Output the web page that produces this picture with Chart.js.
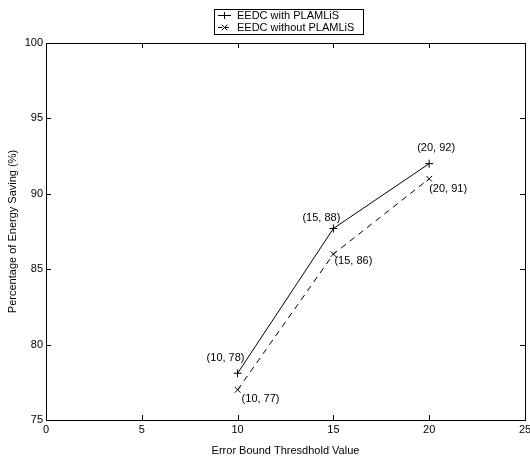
<!DOCTYPE html>
<html>
<head>
<meta charset="utf-8">
<script src="https://cdn.jsdelivr.net/npm/chart.js@4/dist/chart.umd.min.js"></script>
<style>
  html, body { margin: 0; padding: 0; background: #fff; }
  #wrap { width: 530px; height: 464px; }
</style>
</head>
<body>
<div id="wrap"><canvas id="energyChart" width="530" height="464"></canvas></div>
<script>
// data
const thresholds = [10, 15, 20];
const withPlamlis = [78.1, 87.7, 92];
const withoutPlamlis = [77, 86, 91];
const withLabels = ['(10, 78)', '(15, 88)', '(20, 92)'];
const withoutLabels = ['(10, 77)', '(15, 86)', '(20, 91)'];
const xTicks = [0, 5, 10, 15, 20, 25];
const yTicks = [75, 80, 85, 90, 95, 100];

const FONT = 'Liberation Sans, Arial, Helvetica, sans-serif';

const toPoints = (xs, ys) => xs.map((x, i) => ({ x: x, y: ys[i] }));

// offset teks label (px) relatif ke titik
const labelOffsets = [
    [[-31, -15], [-31, -11], [-12, -16]],
    [[4, 9], [1, 7], [0, 10]]
];

// kotak sumbu + tick ke dalam di keempat sisi
const boxPlugin = {
    id: 'boxPlugin',
    afterDraw(chart) {
        const { ctx, chartArea: a, scales } = chart;
        ctx.save();
        ctx.strokeStyle = '#000';
        ctx.lineWidth = 1;
        ctx.strokeRect(Math.round(a.left) + 0.5, Math.round(a.top) + 0.5,
            Math.round(a.right - a.left), Math.round(a.bottom - a.top));
        const tl = 5;
        ctx.beginPath();
        xTicks.forEach(v => {
            const px = Math.round(scales.x.getPixelForValue(v)) + 0.5;
            ctx.moveTo(px, a.bottom); ctx.lineTo(px, a.bottom - tl);
            ctx.moveTo(px, a.top); ctx.lineTo(px, a.top + tl);
        });
        yTicks.forEach(v => {
            const py = Math.round(scales.y.getPixelForValue(v)) + 0.5;
            ctx.moveTo(a.left, py); ctx.lineTo(a.left + tl, py);
            ctx.moveTo(a.right, py); ctx.lineTo(a.right - tl, py);
        });
        ctx.stroke();
        ctx.restore();
    }
};

// label "(x, y)" di samping titik
const pointLabelPlugin = {
    id: 'pointLabelPlugin',
    afterDatasetsDraw(chart) {
        const { ctx } = chart;
        const texts = [withLabels, withoutLabels];
        ctx.save();
        ctx.fillStyle = '#000';
        ctx.font = '11px ' + FONT;
        ctx.textAlign = 'left';
        ctx.textBaseline = 'middle';
        chart.data.datasets.forEach((ds, di) => {
            chart.getDatasetMeta(di).data.forEach((pt, i) => {
                const off = labelOffsets[di][i];
                ctx.fillText(texts[di][i], pt.x + off[0], pt.y + off[1]);
            });
        });
        ctx.restore();
    }
};

// legend bergaya MATLAB dengan kotak
const boxLegendPlugin = {
    id: 'boxLegendPlugin',
    afterDraw(chart) {
        const { ctx } = chart;
        const bx = 214.5, by = 9.5, bw = 149, bh = 25;
        ctx.save();
        ctx.fillStyle = '#fff';
        ctx.fillRect(bx, by, bw, bh);
        ctx.strokeStyle = '#000';
        ctx.lineWidth = 1;
        ctx.strokeRect(bx, by, bw, bh);
        ctx.font = '11px ' + FONT;
        ctx.fillStyle = '#000';
        ctx.textBaseline = 'middle';
        chart.data.datasets.forEach((ds, i) => {
            const y = 15.5 + i * 12;
            const mx = 224.5;
            ctx.beginPath();
            ctx.setLineDash(ds.borderDash ? [4, 3] : []);
            ctx.moveTo(218, y); ctx.lineTo(231, y);
            ctx.stroke();
            ctx.setLineDash([]);
            const r = 3.5;
            ctx.beginPath();
            if (ds.pointStyle === 'cross') {
                ctx.moveTo(mx - r, y); ctx.lineTo(mx + r, y);
                ctx.moveTo(mx, y - r); ctx.lineTo(mx, y + r);
            } else {
                const d = r * 0.8;
                ctx.moveTo(mx - d, y - d); ctx.lineTo(mx + d, y + d);
                ctx.moveTo(mx - d, y + d); ctx.lineTo(mx + d, y - d);
            }
            ctx.stroke();
            ctx.fillText(ds.label, 237, y);
        });
        ctx.restore();
    }
};

new Chart(document.getElementById('energyChart'), {
    type: 'line',
    data: {
        datasets: [{
            label: 'EEDC with PLAMLiS',
            data: toPoints(thresholds, withPlamlis),
            borderColor: '#000',
            borderWidth: 1,
            pointStyle: 'cross',
            pointRadius: 4,
            pointBorderColor: '#000',
            pointBorderWidth: 1,
            fill: false,
            tension: 0
        }, {
            label: 'EEDC without PLAMLiS',
            data: toPoints(thresholds, withoutPlamlis),
            borderColor: '#000',
            borderWidth: 1,
            borderDash: [6, 5],
            pointStyle: 'crossRot',
            pointRadius: 4,
            pointBorderColor: '#000',
            pointBorderWidth: 1,
            fill: false,
            tension: 0
        }]
    },
    options: {
        responsive: false,
        animation: false,
        layout: { padding: { top: 43, right: 5, left: 0, bottom: 0 } },
        plugins: {
            legend: { display: false },
            tooltip: { enabled: false }
        },
        scales: {
            x: {
                type: 'linear',
                min: 0,
                max: 25,
                afterBuildTicks: s => { s.ticks = xTicks.map(v => ({ value: v })); },
                afterFit: s => { s.height = 44; s.paddingLeft = 0; s.paddingRight = 0; },
                grid: { display: false, drawTicks: false },
                border: { display: false },
                ticks: { color: '#000', padding: 3, maxRotation: 0, font: { family: FONT, size: 11 } },
                title: {
                    display: true,
                    text: 'Error Bound Thresdhold Value',
                    color: '#000',
                    font: { family: FONT, size: 11 },
                    padding: { top: 0, bottom: 6 }
                }
            },
            y: {
                type: 'linear',
                min: 75,
                max: 100,
                afterBuildTicks: s => { s.ticks = yTicks.map(v => ({ value: v })); },
                afterFit: s => { s.width = 46; s.paddingTop = 0; s.paddingBottom = 0; },
                grid: { display: false, drawTicks: false },
                border: { display: false },
                ticks: { color: '#000', padding: 3, font: { family: FONT, size: 11 } },
                title: {
                    display: true,
                    text: 'Percentage of Energy Saving (%)',
                    color: '#000',
                    font: { family: FONT, size: 11 },
                    padding: { top: 6, bottom: 0 }
                }
            }
        }
    },
    plugins: [boxPlugin, pointLabelPlugin, boxLegendPlugin]
});
</script>
</body>
</html>
